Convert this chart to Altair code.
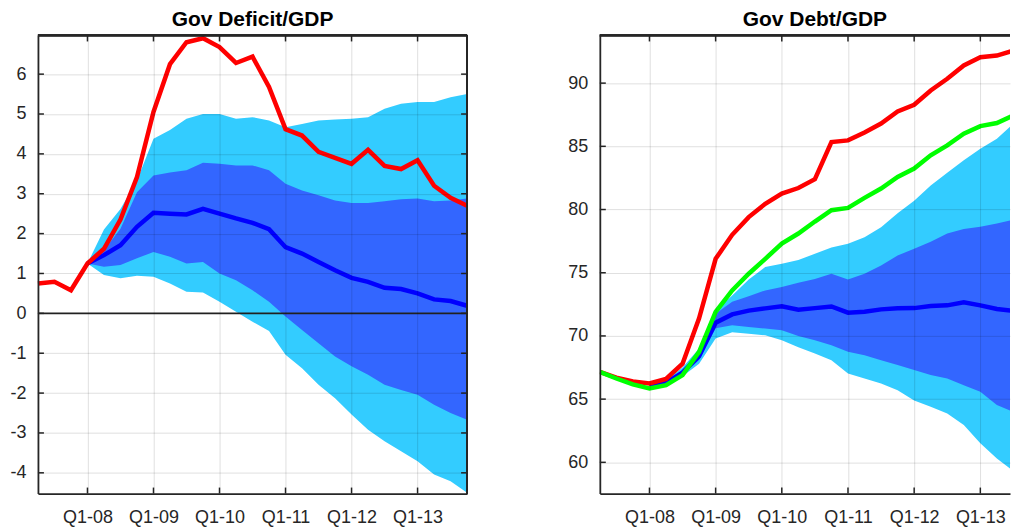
import altair as alt
import pandas as pd

# ---------------- data ----------------
titles = ["Gov Deficit/GDP", "Gov Debt/GDP"]
quarters = ["Q2-07", "Q3-07", "Q4-07",
            "Q1-08", "Q2-08", "Q3-08", "Q4-08",
            "Q1-09", "Q2-09", "Q3-09", "Q4-09",
            "Q1-10", "Q2-10", "Q3-10", "Q4-10",
            "Q1-11", "Q2-11", "Q3-11", "Q4-11",
            "Q1-12", "Q2-12", "Q3-12", "Q4-12",
            "Q1-13", "Q2-13", "Q3-13", "Q4-13"]
tick_labels = ["Q1-08", "Q1-09", "Q1-10", "Q1-11", "Q1-12", "Q1-13"]
forecast_start = "Q1-08"

# Gov Deficit/GDP
def_actual = [0.75, 0.79, 0.58, 1.25, 1.62, 2.35, 3.42, 5.05, 6.25, 6.80, 6.90, 6.68, 6.28,
              6.44, 5.68, 4.62, 4.46, 4.05, 3.90, 3.75, 4.10, 3.70, 3.62, 3.84, 3.20, 2.90, 2.70]
def_median = [1.25, 1.46, 1.71, 2.17, 2.52, 2.50, 2.48, 2.62, 2.50, 2.38, 2.27, 2.11,
              1.66, 1.50, 1.29, 1.08, 0.89, 0.79, 0.64, 0.61, 0.50, 0.35, 0.31, 0.19]
def_inner_hi = [1.25, 1.58, 2.12, 3.04, 3.46, 3.53, 3.59, 3.78, 3.75, 3.71, 3.71, 3.59,
                3.25, 3.08, 2.96, 2.83, 2.77, 2.77, 2.81, 2.86, 2.88, 2.81, 2.83, 2.88]
def_inner_lo = [1.25, 1.17, 1.21, 1.38, 1.54, 1.42, 1.25, 1.29, 1.00, 0.83, 0.58, 0.29,
                -0.08, -0.42, -0.75, -1.08, -1.33, -1.54, -1.79, -1.92, -2.04, -2.29, -2.50, -2.67]
def_outer_hi = [1.25, 2.10, 2.62, 3.33, 4.38, 4.60, 4.88, 5.00, 5.00, 4.88, 4.92, 4.84,
                4.67, 4.75, 4.84, 4.86, 4.88, 4.92, 5.13, 5.26, 5.30, 5.30, 5.42, 5.50]
def_outer_lo = [1.25, 0.96, 0.88, 0.94, 0.92, 0.75, 0.54, 0.52, 0.29, 0.04, -0.21, -0.44,
                -1.04, -1.38, -1.79, -2.13, -2.54, -2.92, -3.21, -3.46, -3.71, -4.04, -4.21, -4.50]
def_yticks = [-4, -3, -2, -1, 0, 1, 2, 3, 4, 5, 6]
def_ydomain = [-4.52, 6.97]

# Gov Debt/GDP
debt_actual = [67.16, 66.70, 66.40, 66.24, 66.60, 67.80, 71.40, 76.10, 78.00, 79.40, 80.45, 81.26, 81.70,
               82.40, 85.34, 85.47, 86.10, 86.80, 87.76, 88.29, 89.42, 90.34, 91.40, 92.05, 92.18, 92.58, 92.80]
debt_alt = [67.16, 66.63, 66.16, 65.84, 66.10, 66.90, 68.74, 71.90, 73.60, 74.92, 76.10, 77.30, 78.10,
            79.05, 79.95, 80.13, 80.92, 81.66, 82.58, 83.24, 84.29, 85.08, 86.00, 86.60, 86.84, 87.45, 87.90]
debt_median = [66.00, 66.30, 67.10, 68.40, 71.05, 71.70, 72.00, 72.18, 72.35, 72.07, 72.20, 72.33,
               71.84, 71.92, 72.10, 72.18, 72.20, 72.37, 72.42, 72.66, 72.42, 72.13, 71.98, 71.85]
debt_inner_hi = [66.00, 66.40, 67.30, 68.70, 71.76, 72.70, 73.13, 73.60, 73.87, 74.20, 74.50, 74.92,
                 74.47, 74.92, 75.58, 76.37, 76.90, 77.45, 78.10, 78.45, 78.63, 78.90, 79.20, 79.60]
debt_inner_lo = [66.00, 66.20, 66.90, 68.10, 70.60, 70.84, 70.70, 70.58, 70.45, 70.00, 69.65, 69.26,
                 68.74, 68.47, 68.08, 67.70, 67.30, 66.90, 66.63, 66.10, 65.58, 64.53, 64.00, 63.50]
debt_outer_hi = [66.00, 66.50, 67.50, 69.00, 72.00, 73.20, 74.47, 75.45, 75.70, 76.00, 76.50, 77.00,
                 77.30, 77.80, 78.60, 79.70, 80.70, 81.90, 82.90, 83.90, 84.80, 85.60, 86.80, 88.00]
debt_outer_lo = [66.00, 66.10, 66.80, 67.80, 69.80, 70.30, 70.18, 70.05, 69.66, 69.10, 68.60, 68.08,
                 67.03, 66.63, 66.24, 65.70, 64.90, 64.40, 63.87, 62.95, 61.50, 60.30, 59.30, 58.20]
debt_yticks = [60, 65, 70, 75, 80, 85, 90]
debt_ydomain = [57.53, 93.77]

# ---------------- styling ----------------
RED = "#FF0000"
BLUE = "#0000FF"
GREEN = "#00FF00"
DARK = "#3366FF"
LIGHT = "#33CCFF"
AX = "#262626"
FONT = "Liberation Sans"

H = 459
W1 = 430
W_FULL = 431      # full width of the right panel (it is cut by the window edge)
W2 = 411          # visible part of the right panel
TICK = 6
LW = 4.5
FW = 1.8

n = len(quarters)
t_all = list(range(n))
f0 = quarters.index(forecast_start)
t_fc = list(range(f0, n))
tick_pos = [quarters.index(q) for q in tick_labels]
step = tick_pos[1] - tick_pos[0]
lab_arr = "[" + ",".join("'%s'" % q for q in tick_labels) + "]"
label_expr = "%s[round((datum.value-%d)/%d)]" % (lab_arr, tick_pos[0], step)


def panel(title, actual, median, ihi, ilo, ohi, olo, yticks, ydom, width, xmax, title_x,
          alt_series=None, zero_line=False, right_frame=True):
    hist = pd.DataFrame({"t": t_all, "actual": actual})
    if alt_series is not None:
        hist["alt"] = alt_series
    fan = pd.DataFrame({"t": t_fc, "median": median, "ihi": ihi, "ilo": ilo,
                        "ohi": ohi, "olo": olo})
    xs = alt.Scale(domain=[0, xmax], nice=False, zero=False)
    ys = alt.Scale(domain=ydom, nice=False, zero=False)
    xax = alt.Axis(values=tick_pos, labelExpr=label_expr, title=None, grid=True,
                   ticks=False, tickSize=0, labelPadding=15, labelFlush=False,
                   labelFontSize=18, domain=True, zindex=1)
    yax = alt.Axis(values=yticks, labelExpr="'' + datum.value", title=None, grid=True,
                   ticks=False, tickSize=0, labelPadding=12, labelFontSize=18,
                   domain=True, zindex=1)

    def X(f):
        return alt.X(f, type="quantitative", scale=xs, axis=xax)

    def Y(f):
        return alt.Y(f, type="quantitative", scale=ys, axis=yax)

    layers = []
    layers.append(alt.Chart(fan).mark_area(color=LIGHT, opacity=1, clip=True)
                  .encode(x=X("t"), y=Y("olo"), y2="ohi"))
    layers.append(alt.Chart(fan).mark_area(color=DARK, opacity=1, clip=True)
                  .encode(x=X("t"), y=Y("ilo"), y2="ihi"))
    if zero_line:
        layers.append(alt.Chart(pd.DataFrame({"z": [0]}))
                      .mark_rule(color=AX, strokeWidth=1.8)
                      .encode(y=Y("z")))
    layers.append(alt.Chart(fan).mark_line(color=BLUE, strokeWidth=LW, clip=True)
                  .encode(x=X("t"), y=Y("median")))
    layers.append(alt.Chart(hist).mark_line(color=RED, strokeWidth=LW, clip=not right_frame)
                  .encode(x=X("t"), y=Y("actual")))
    if alt_series is not None:
        layers.append(alt.Chart(hist).mark_line(color=GREEN, strokeWidth=LW, clip=True)
                      .encode(x=X("t"), y=Y("alt")))
    # inward tick marks (MATLAB style box)
    yt = pd.DataFrame({"v": yticks})
    xt = pd.DataFrame({"v": tick_pos})
    layers.append(alt.Chart(yt).mark_rule(color=AX, strokeWidth=1.5)
                  .encode(y=Y("v"), x=alt.value(0), x2=alt.value(TICK)))
    if right_frame:
        layers.append(alt.Chart(yt).mark_rule(color=AX, strokeWidth=1.5)
                      .encode(y=Y("v"), x=alt.value(width - TICK), x2=alt.value(width)))
    layers.append(alt.Chart(xt).mark_rule(color=AX, strokeWidth=1.5)
                  .encode(x=X("v"), y=alt.value(H - TICK), y2=alt.value(H)))
    layers.append(alt.Chart(xt).mark_rule(color=AX, strokeWidth=1.5)
                  .encode(x=X("v"), y=alt.value(0), y2=alt.value(TICK)))
    # top and right frame lines
    layers.append(alt.Chart(xt).mark_rule(color=AX, strokeWidth=FW)
                  .encode(x=alt.value(0), x2=alt.value(width), y=alt.value(0)))
    if right_frame:
        layers.append(alt.Chart(xt).mark_rule(color=AX, strokeWidth=FW)
                      .encode(x=alt.value(width), y=alt.value(0), y2=alt.value(H)))
    # panel title
    layers.append(alt.Chart(pd.DataFrame({"title": [title]}))
                  .mark_text(font=FONT, fontSize=21, fontWeight="bold", color="black",
                             align="center", baseline="alphabetic")
                  .encode(text="title:N", x=alt.value(title_x), y=alt.value(-9.5)))

    return alt.layer(*layers).properties(width=width, height=H)


left = panel(titles[0], def_actual, def_median, def_inner_hi, def_inner_lo,
             def_outer_hi, def_outer_lo, def_yticks, def_ydomain, W1, n - 1, W1 / 2,
             zero_line=True, right_frame=True)
right = panel(titles[1], debt_actual, debt_median, debt_inner_hi, debt_inner_lo,
              debt_outer_hi, debt_outer_lo, debt_yticks, debt_ydomain, W2,
              (n - 1) * W2 / float(W_FULL), W_FULL / 2,
              alt_series=debt_alt, right_frame=False)

chart = alt.hconcat(left, right, spacing=133, bounds="flush").properties(
    padding={"left": 1, "top": 0, "right": 0, "bottom": 0}
).configure_view(stroke=None).configure_axis(
    labelFont=FONT, labelColor=AX,
    domainColor=AX, domainWidth=FW,
    gridColor="#000000", gridOpacity=0.13, gridWidth=1,
)

chart.save("out.html", embed_options={"renderer": "svg", "actions": False})
